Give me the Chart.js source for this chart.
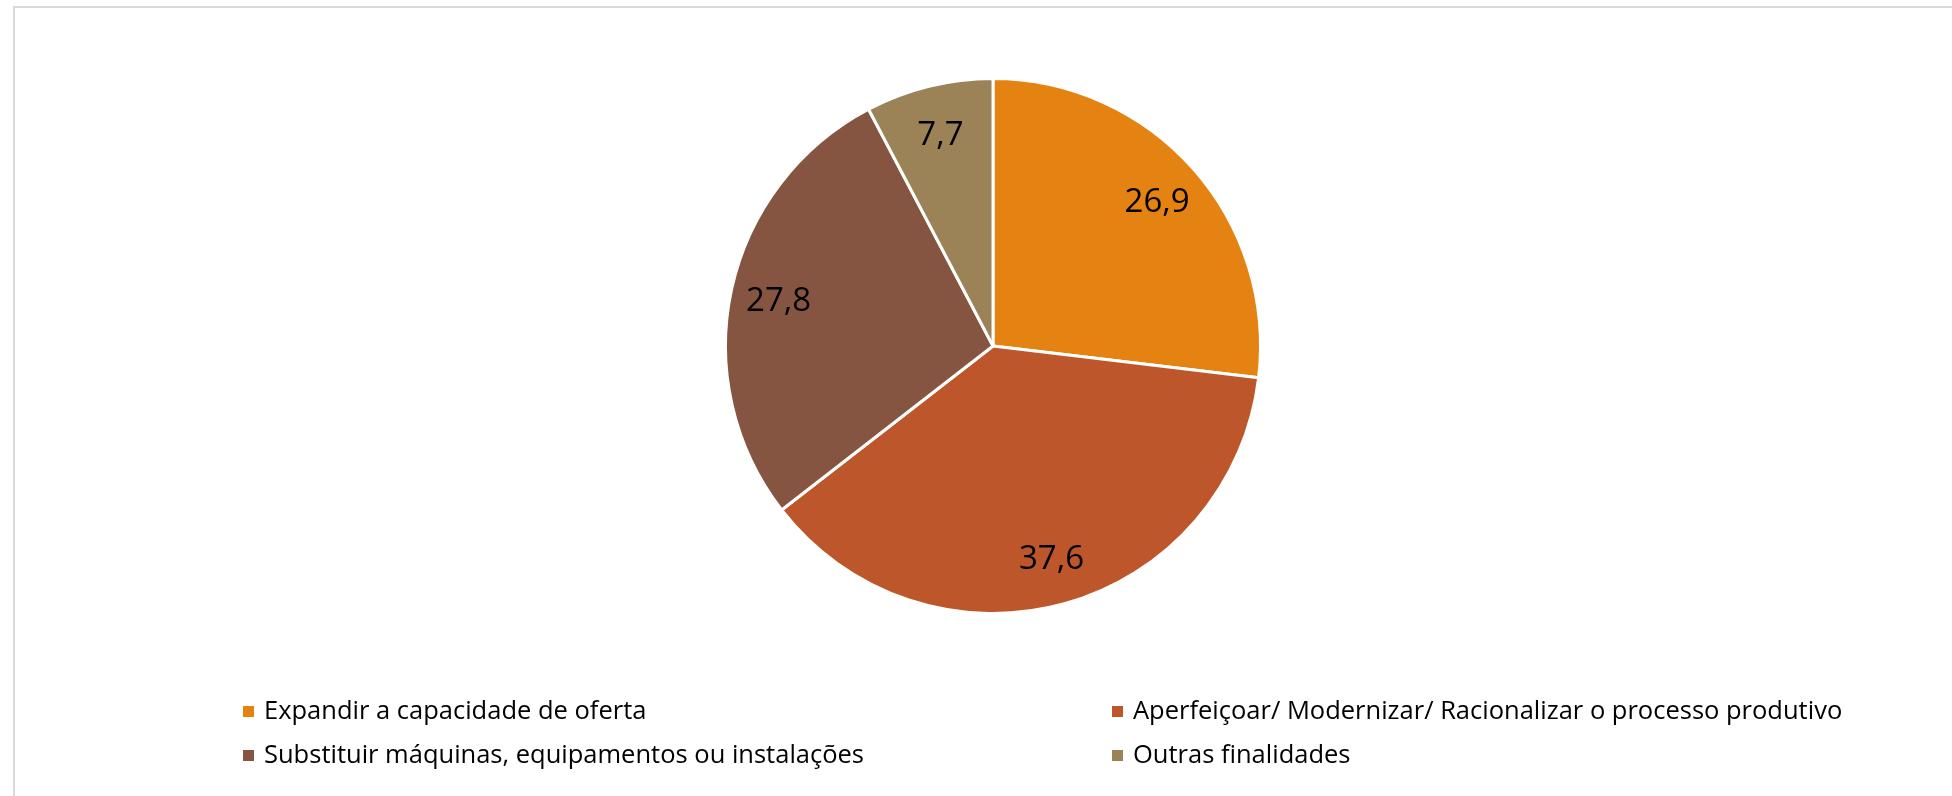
<!DOCTYPE html>
<html>
<head>
<meta charset="utf-8">
<script src="https://cdn.jsdelivr.net/npm/chart.js@4.4.0/dist/chart.umd.min.js"></script>
<style>
  html, body { margin: 0; padding: 0; background: #fff; }
  #wrap { position: relative; width: 1952px; height: 796px; overflow: hidden; }
  #frame { position: absolute; left: 13px; top: 6px; width: 2000px; height: 900px;
           border-left: 2px solid #d9d9d9; border-top: 2px solid #d9d9d9; }
  canvas { position: absolute; left: 0; top: 0; }
</style>
</head>
<body>
<div id="wrap">
  <div id="frame"></div>
  <canvas id="pieChart" width="1952" height="796"></canvas>
</div>
<script>
// Dados do gráfico
const categorias = [
    'Expandir a capacidade de oferta',
    'Aperfeiçoar/ Modernizar/ Racionalizar o processo produtivo',
    'Substituir máquinas, equipamentos ou instalações',
    'Outras finalidades'
];
const valores = [26.9, 37.6, 27.8, 7.7];
const cores = ['#e58312', '#bd572b', '#865541', '#9c8257'];

// Rótulos de dados dentro das fatias
const rotulosPlugin = {
    id: 'rotulos',
    afterDatasetsDraw(chart) {
        const ctx = chart.ctx;
        const meta = chart.getDatasetMeta(0);
        const tam = 33;
        ctx.save();
        ctx.font = tam + 'px "Open Sans"';
        ctx.fillStyle = '#000';
        ctx.textAlign = 'center';
        ctx.textBaseline = 'alphabetic';
        meta.data.forEach(function(arc, i) {
            const p = arc.getProps(['x', 'y', 'startAngle', 'endAngle', 'outerRadius'], true);
            const mid = (p.startAngle + p.endAngle) / 2;
            const r = p.outerRadius * 0.82;
            const txt = valores[i].toFixed(1).replace('.', ',');
            ctx.fillText(txt, p.x + Math.cos(mid) * r, p.y + Math.sin(mid) * r + tam * 0.36);
        });
        ctx.restore();
    }
};

// Legenda em duas colunas
const legendaPlugin = {
    id: 'legenda',
    afterDraw(chart) {
        const ctx = chart.ctx;
        const colX = [243, 1112];
        const rowY = [712, 756];
        ctx.save();
        ctx.font = '25.5px "Open Sans"';
        ctx.textBaseline = 'middle';
        chart.data.labels.forEach(function(lbl, i) {
            const x = colX[i % 2];
            const y = rowY[Math.floor(i / 2)];
            ctx.fillStyle = chart.data.datasets[0].backgroundColor[i];
            ctx.fillRect(x, y - 6, 11, 11);
            ctx.fillStyle = '#000';
            ctx.fillText(lbl, x + 21, y);
        });
        ctx.restore();
    }
};

const ctx = document.getElementById('pieChart').getContext('2d');
new Chart(ctx, {
    type: 'pie',
    data: {
        labels: categorias,
        datasets: [{
            data: valores,
            backgroundColor: cores,
            borderColor: '#ffffff',
            borderWidth: 3
        }]
    },
    options: {
        responsive: false,
        animation: false,
        layout: { padding: { top: 77, bottom: 181, left: 34, right: 0 } },
        plugins: {
            legend: { display: false },
            tooltip: { enabled: false }
        }
    },
    plugins: [rotulosPlugin, legendaPlugin]
});
</script>
</body>
</html>
